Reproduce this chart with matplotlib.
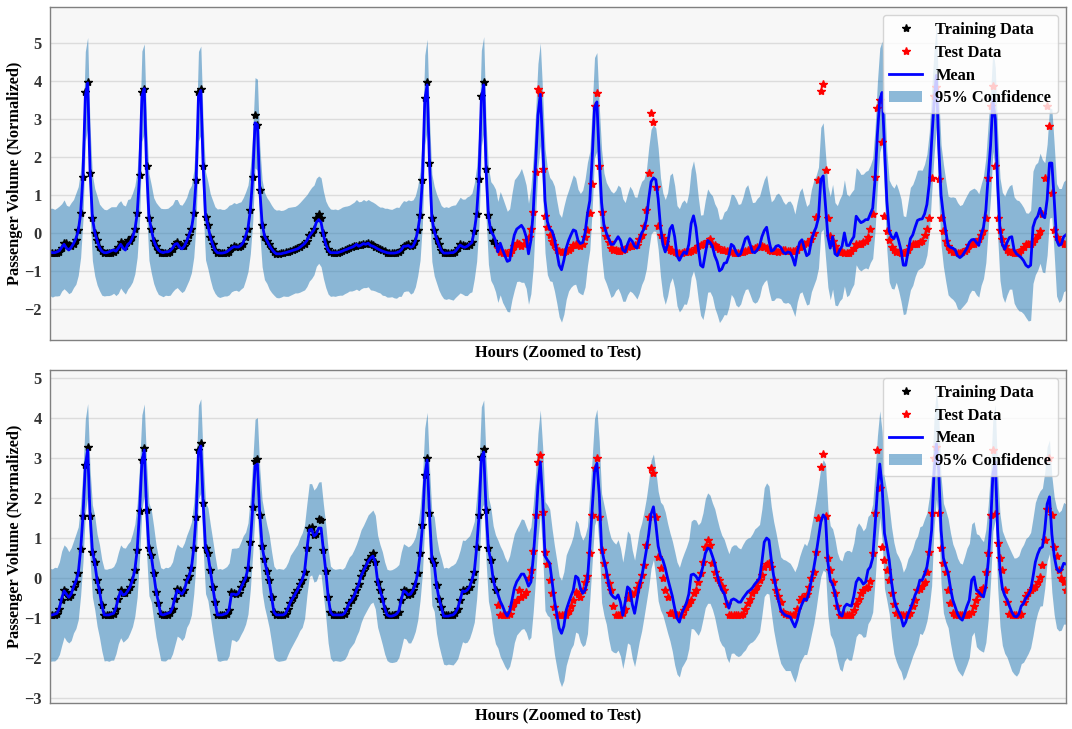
# plot.py
# GP forecast of hourly passenger volume, two stations, train/test split
import matplotlib
matplotlib.use("Agg")
import matplotlib.pyplot as plt
import numpy as np

# hour index where the test data starts (18 days x 24 h in total)
split_hour = 190

# top station: observed values, one row per day (24 hourly values)
obs_top = [
	[-0.52,-0.53,-0.53,-0.52,-0.5,-0.4,-0.27,-0.26,-0.33,-0.34,-0.3,-0.18,0.08,0.53,1.48,3.72,3.98,1.59,0.39,0.0,-0.18,-0.36,-0.48,-0.52],
	[-0.52,-0.53,-0.53,-0.5,-0.45,-0.38,-0.25,-0.3,-0.35,-0.18,-0.2,-0.1,0.1,0.53,1.53,3.72,3.8,1.75,0.4,0.1,-0.2,-0.35,-0.45,-0.52],
	[-0.52,-0.53,-0.52,-0.5,-0.42,-0.3,-0.25,-0.32,-0.35,-0.35,-0.2,-0.05,0.1,0.53,1.39,3.72,3.8,1.76,0.42,0.2,-0.1,-0.28,-0.45,-0.52],
	[-0.53,-0.53,-0.53,-0.52,-0.5,-0.4,-0.35,-0.38,-0.38,-0.35,-0.28,-0.1,0.1,0.6,1.48,3.1,2.84,1.13,0.2,-0.1,-0.2,-0.3,-0.42,-0.5],
	[-0.55,-0.55,-0.53,-0.52,-0.5,-0.5,-0.48,-0.45,-0.43,-0.4,-0.36,-0.33,-0.3,-0.2,-0.05,0.0,0.1,0.4,0.5,0.38,0.0,-0.25,-0.42,-0.5],
	[-0.52,-0.53,-0.53,-0.5,-0.48,-0.45,-0.42,-0.4,-0.38,-0.35,-0.35,-0.32,-0.33,-0.3,-0.28,-0.27,-0.3,-0.33,-0.38,-0.4,-0.42,-0.45,-0.48,-0.52],
	[-0.52,-0.53,-0.53,-0.52,-0.5,-0.45,-0.35,-0.32,-0.3,-0.35,-0.33,-0.2,0.08,0.47,1.39,3.55,3.98,1.84,0.39,0.07,-0.15,-0.3,-0.45,-0.52],
	[-0.53,-0.53,-0.53,-0.52,-0.5,-0.4,-0.3,-0.33,-0.35,-0.35,-0.33,-0.25,0.05,0.5,1.42,3.6,3.98,1.68,0.47,0.08,-0.2,-0.3,-0.4,-0.5],
	[-0.53,-0.53,-0.53,-0.52,-0.45,-0.35,-0.27,-0.3,-0.35,-0.3,-0.18,-0.1,0.1,0.55,1.61,3.78,3.69,1.68,0.45,0.15,-0.05,-0.2,-0.33,-0.45],
	[-0.48,-0.5,-0.5,-0.48,-0.45,-0.4,-0.33,-0.3,-0.32,-0.35,-0.3,-0.1,0.07,0.52,1.3,3.34,3.69,1.76,0.55,0.13,-0.07,-0.25,-0.4,-0.45],
	[-0.45,-0.47,-0.48,-0.45,-0.42,-0.38,-0.35,-0.35,-0.33,-0.32,-0.15,-0.05,0.18,0.6,1.58,3.17,2.91,1.2,0.17,-0.05,-0.13,-0.25,-0.36,-0.45],
	[-0.48,-0.5,-0.52,-0.53,-0.52,-0.5,-0.5,-0.5,-0.48,-0.45,-0.4,-0.35,-0.33,-0.3,-0.28,-0.2,-0.17,-0.28,-0.33,-0.38,-0.42,-0.45,-0.45,-0.47],
	[-0.48,-0.5,-0.52,-0.53,-0.52,-0.5,-0.5,-0.48,-0.45,-0.45,-0.42,-0.4,-0.38,-0.36,-0.35,-0.37,-0.4,-0.45,-0.47,-0.48,-0.48,-0.5,-0.48,-0.45],
	[-0.45,-0.47,-0.48,-0.48,-0.47,-0.45,-0.38,-0.35,-0.3,-0.27,-0.25,-0.15,0.0,0.42,1.4,3.74,3.92,1.66,0.39,-0.07,-0.2,-0.35,-0.45,-0.5],
	[-0.5,-0.52,-0.53,-0.52,-0.48,-0.4,-0.3,-0.3,-0.28,-0.25,-0.2,-0.1,0.1,0.5,1.48,3.3,3.5,2.4,0.45,0.05,-0.18,-0.36,-0.45,-0.5],
	[-0.5,-0.52,-0.52,-0.5,-0.45,-0.35,-0.3,-0.3,-0.28,-0.25,-0.2,-0.05,0.1,0.4,1.45,3.6,3.85,1.43,0.4,0.05,-0.2,-0.35,-0.45,-0.5],
	[-0.5,-0.52,-0.52,-0.5,-0.48,-0.42,-0.32,-0.3,-0.28,-0.25,-0.15,-0.05,0.05,0.4,1.45,3.34,3.86,1.75,0.4,0.08,-0.17,-0.35,-0.45,-0.5],
	[-0.5,-0.52,-0.52,-0.5,-0.45,-0.38,-0.3,-0.3,-0.28,-0.25,-0.15,-0.05,0.05,0.5,1.45,3.34,2.82,1.06,0.07,-0.1,-0.18,-0.25,-0.28,-0.3],
]

# top station: predictive mean
mean_top = [
	[-0.5,-0.52,-0.52,-0.5,-0.47,-0.38,-0.3,-0.4,-0.45,-0.38,-0.28,-0.15,0.05,0.5,1.5,3.6,3.95,1.65,0.4,0.02,-0.2,-0.38,-0.48,-0.52],
	[-0.52,-0.5,-0.47,-0.45,-0.48,-0.4,-0.3,-0.4,-0.45,-0.3,-0.25,-0.12,0.08,0.5,1.5,3.6,3.8,1.7,0.42,0.1,-0.2,-0.35,-0.45,-0.5],
	[-0.52,-0.5,-0.5,-0.47,-0.4,-0.3,-0.28,-0.38,-0.42,-0.35,-0.22,-0.05,0.1,0.5,1.4,3.6,3.75,1.75,0.45,0.2,-0.1,-0.3,-0.45,-0.52],
	[-0.53,-0.53,-0.52,-0.5,-0.45,-0.4,-0.36,-0.37,-0.37,-0.33,-0.25,-0.08,0.12,0.6,1.45,2.9,2.85,1.15,0.25,-0.08,-0.2,-0.32,-0.42,-0.5],
	[-0.55,-0.55,-0.55,-0.53,-0.52,-0.5,-0.48,-0.46,-0.44,-0.42,-0.38,-0.33,-0.28,-0.2,-0.08,0.0,0.08,0.28,0.35,0.28,-0.05,-0.3,-0.45,-0.52],
	[-0.52,-0.52,-0.52,-0.5,-0.48,-0.45,-0.43,-0.4,-0.38,-0.35,-0.3,-0.35,-0.32,-0.28,-0.3,-0.27,-0.33,-0.35,-0.38,-0.42,-0.45,-0.48,-0.5,-0.52],
	[-0.53,-0.53,-0.53,-0.52,-0.5,-0.45,-0.35,-0.35,-0.33,-0.38,-0.35,-0.22,0.05,0.45,1.4,3.5,3.9,1.85,0.4,0.05,-0.15,-0.32,-0.46,-0.53],
	[-0.53,-0.53,-0.52,-0.52,-0.48,-0.4,-0.32,-0.36,-0.38,-0.35,-0.3,-0.25,0.05,0.5,1.45,3.55,3.9,1.65,0.45,0.05,-0.05,-0.2,-0.5,-0.27],
	[-0.45,-0.6,-0.75,-0.72,-0.35,-0.05,0.1,0.15,0.2,0.1,-0.1,-0.55,-0.2,0.55,1.8,3.1,3.65,2.4,0.85,0.3,0.1,0.05,-0.15,-0.5],
	[-0.85,-0.97,-0.72,-0.4,-0.2,-0.05,0.08,0.05,-0.2,-0.28,-0.25,0.0,0.5,0.85,1.95,3.3,3.45,2.0,0.8,0.2,0.0,-0.15,-0.3,-0.3],
	[-0.2,-0.1,-0.2,-0.45,-0.5,-0.3,-0.15,-0.22,-0.35,-0.4,-0.2,0.0,0.1,0.35,0.9,1.35,1.45,1.4,0.9,0.15,-0.3,-0.5,-0.3,0.1],
	[0.2,-0.1,-0.6,-0.72,-0.6,-0.5,-0.55,-0.3,0.25,0.45,0.15,-0.4,-0.85,-0.9,-0.55,-0.2,-0.25,-0.35,-0.6,-0.75,-1.0,-0.95,-0.8,-0.78],
	[-0.6,-0.3,-0.35,-0.5,-0.6,-0.55,-0.35,-0.15,-0.1,-0.3,-0.5,-0.52,-0.45,-0.35,-0.1,0.06,0.15,-0.2,-0.48,-0.45,-0.35,-0.33,-0.38,-0.5],
	[-0.55,-0.5,-0.52,-0.65,-0.85,-0.5,-0.25,-0.18,-0.4,-0.6,-0.55,-0.2,0.0,0.15,0.4,1.4,1.5,0.7,-0.1,-0.4,-0.1,-0.55,-0.6,-0.45],
	[-0.35,0.0,-0.33,-0.33,-0.2,-0.1,0.44,0.35,0.27,0.3,0.35,0.35,0.5,0.65,1.4,2.6,3.5,3.7,2.3,0.85,0.05,-0.1,-0.15,0.0],
	[-0.2,-0.45,-0.85,-0.85,-0.5,-0.15,-0.05,0.15,0.33,0.36,0.37,0.5,0.75,1.3,2.4,3.4,4.15,2.3,1.0,0.46,0.05,-0.33,-0.38,-0.4],
	[-0.45,-0.6,-0.65,-0.6,-0.5,-0.4,-0.25,-0.18,-0.17,-0.25,-0.33,-0.05,0.15,0.6,1.5,2.3,3.5,3.0,1.3,0.1,-0.3,-0.43,-0.25,-0.12],
	[-0.1,-0.45,-0.55,-0.6,-0.65,-0.73,-0.85,-0.9,-0.85,0.15,0.35,0.44,0.65,0.45,0.4,0.88,1.84,1.84,0.88,-0.18,-0.33,-0.3,-0.1,-0.05],
]

# top station: half width of the 95% band
band_top = [
	[1.15,1.17,1.14,1.16,1.18,1.15,1.17,1.13,1.15,1.18,1.16,1.2,1.17,1.15,1.16,1.18,1.2,1.16,1.13,1.15,1.17,1.14,1.16,1.14],
	[1.13,1.15,1.16,1.14,1.17,1.19,1.15,1.14,1.16,1.18,1.15,1.17,1.16,1.14,1.17,1.19,1.18,1.15,1.14,1.16,1.13,1.15,1.17,1.15],
	[1.16,1.14,1.15,1.17,1.15,1.18,1.16,1.13,1.15,1.17,1.16,1.19,1.15,1.14,1.16,1.18,1.17,1.14,1.16,1.15,1.13,1.16,1.14,1.15],
	[1.17,1.15,1.14,1.16,1.18,1.15,1.16,1.14,1.17,1.15,1.18,1.16,1.14,1.15,1.17,1.19,1.2,1.16,1.14,1.15,1.13,1.16,1.15,1.14],
	[1.15,1.16,1.14,1.13,1.15,1.17,1.16,1.15,1.14,1.16,1.18,1.2,1.22,1.21,1.19,1.2,1.18,1.16,1.15,1.17,1.15,1.14,1.16,1.15],
	[1.14,1.15,1.13,1.14,1.16,1.15,1.14,1.13,1.15,1.16,1.18,1.17,1.15,1.16,1.14,1.15,1.17,1.16,1.15,1.14,1.13,1.16,1.15,1.17],
	[1.16,1.15,1.18,1.2,1.17,1.22,1.2,1.18,1.2,1.23,1.22,1.2,1.18,1.17,1.16,1.18,1.2,1.16,1.15,1.18,1.17,1.19,1.18,1.2],
	[1.22,1.2,1.23,1.25,1.22,1.24,1.26,1.25,1.27,1.3,1.28,1.3,1.26,1.25,1.24,1.26,1.27,1.25,1.28,1.3,1.32,1.35,1.33,1.36],
	[1.38,1.35,1.32,1.36,1.4,1.45,1.38,1.42,1.5,1.4,1.36,1.33,1.4,1.45,1.38,1.36,1.35,1.3,1.37,1.4,1.36,1.33,1.38,1.35],
	[1.36,1.38,1.42,1.35,1.33,1.38,1.45,1.4,1.35,1.32,1.38,1.42,1.36,1.3,1.34,1.32,1.3,1.35,1.4,1.38,1.33,1.36,1.4,1.35],
	[1.32,1.36,1.4,1.35,1.3,1.33,1.38,1.35,1.3,1.34,1.38,1.36,1.32,1.3,1.35,1.38,1.4,1.36,1.33,1.3,1.35,1.38,1.36,1.42],
	[1.38,1.35,1.32,1.36,1.4,1.37,1.33,1.36,1.42,1.45,1.4,1.35,1.32,1.38,1.42,1.36,1.3,1.33,1.37,1.4,1.36,1.32,1.35,1.38],
	[1.35,1.32,1.36,1.4,1.35,1.32,1.3,1.34,1.37,1.33,1.3,1.33,1.36,1.32,1.3,1.35,1.38,1.34,1.3,1.33,1.36,1.38,1.35,1.33],
	[1.3,1.33,1.36,1.38,1.35,1.32,1.34,1.37,1.33,1.3,1.32,1.35,1.38,1.36,1.33,1.38,1.4,1.36,1.33,1.36,1.38,1.35,1.32,1.34],
	[1.37,1.4,1.35,1.3,1.27,1.25,1.28,1.3,1.27,1.25,1.27,1.3,1.28,1.32,1.35,1.38,1.37,1.35,1.33,1.3,1.34,1.36,1.33,1.3],
	[1.32,1.35,1.3,1.28,1.32,1.35,1.33,1.3,1.32,1.3,1.28,1.31,1.33,1.35,1.37,1.38,1.36,1.34,1.32,1.35,1.33,1.3,1.32,1.35],
	[1.38,1.4,1.37,1.35,1.38,1.4,1.36,1.33,1.35,1.38,1.36,1.33,1.35,1.38,1.4,1.37,1.35,1.36,1.38,1.35,1.37,1.4,1.38,1.36],
	[1.38,1.4,1.42,1.45,1.42,1.4,1.38,1.42,1.45,1.48,1.45,1.42,1.45,1.48,1.45,1.46,1.45,1.43,1.45,1.48,1.5,1.47,1.45,1.46],
]

# bottom station: observed values
obs_bot = [
	[-0.93,-0.93,-0.92,-0.9,-0.78,-0.55,-0.3,-0.35,-0.47,-0.42,-0.22,-0.1,0.12,0.72,1.55,2.83,3.27,1.55,0.66,0.41,-0.05,-0.3,-0.68,-0.93],
	[-0.93,-0.93,-0.93,-0.9,-0.76,-0.51,-0.3,-0.38,-0.36,-0.3,-0.22,-0.05,0.2,0.7,1.68,2.95,3.24,1.7,0.74,0.58,0.12,-0.34,-0.63,-0.9],
	[-0.93,-0.93,-0.93,-0.88,-0.76,-0.51,-0.26,-0.3,-0.38,-0.3,-0.05,0.05,0.24,0.74,1.53,3.2,3.37,1.87,0.74,0.62,0.2,-0.22,-0.59,-0.93],
	[-0.93,-0.93,-0.93,-0.9,-0.8,-0.34,-0.38,-0.4,-0.38,-0.22,-0.1,0.0,0.24,0.9,1.78,2.92,2.97,1.58,0.8,0.47,0.18,-0.06,-0.47,-0.85],
	[-0.93,-0.93,-0.93,-0.93,-0.9,-0.76,-0.62,-0.5,-0.38,-0.3,-0.15,-0.05,0.16,0.74,1.24,1.28,1.08,1.1,1.47,1.45,0.7,0.18,-0.47,-0.85],
	[-0.93,-0.93,-0.93,-0.93,-0.93,-0.9,-0.78,-0.63,-0.55,-0.45,-0.3,-0.15,0.05,0.18,0.3,0.45,0.55,0.62,0.41,-0.09,-0.3,-0.51,-0.76,-0.93],
	[-0.93,-0.93,-0.93,-0.92,-0.85,-0.55,-0.3,-0.32,-0.42,-0.4,-0.3,-0.15,0.12,0.62,1.33,2.58,3.0,1.62,0.47,0.37,-0.18,-0.51,-0.72,-0.93],
	[-0.93,-0.93,-0.93,-0.93,-0.88,-0.76,-0.55,-0.3,-0.32,-0.3,-0.22,-0.05,0.16,0.78,1.58,3.03,3.22,1.7,0.74,0.45,-0.03,-0.3,-0.68,-0.93],
	[-0.93,-0.93,-0.93,-0.9,-0.72,-0.62,-0.55,-0.3,-0.47,-0.42,-0.35,0.0,0.2,0.68,1.58,2.9,3.08,1.65,0.64,0.35,-0.05,-0.37,-0.72,-0.93],
	[-0.93,-0.93,-0.93,-0.93,-0.82,-0.7,-0.55,-0.35,-0.4,-0.47,-0.3,-0.1,0.05,0.62,1.58,2.74,3.0,1.53,0.7,0.37,0.08,-0.13,-0.3,-0.7],
	[-0.93,-0.93,-0.93,-0.88,-0.76,-0.5,-0.38,-0.4,-0.38,-0.25,-0.13,0.08,0.32,0.83,1.53,2.74,2.62,1.53,0.53,0.25,0.0,-0.3,-0.47,-0.88],
	[-0.88,-0.93,-0.93,-0.93,-0.93,-0.8,-0.72,-0.63,-0.55,-0.38,-0.3,-0.1,0.12,0.4,0.78,0.95,0.83,0.37,0.16,0.0,-0.05,-0.2,-0.3,-0.65],
	[-0.93,-0.93,-0.93,-0.93,-0.93,-0.93,-0.9,-0.76,-0.63,-0.51,-0.38,-0.3,-0.2,-0.05,0.08,0.28,0.35,0.38,0.28,-0.05,-0.3,-0.45,-0.6,-0.85],
	[-0.9,-0.93,-0.93,-0.93,-0.9,-0.76,-0.55,-0.47,-0.5,-0.4,-0.22,0.0,0.16,0.66,1.5,2.78,3.09,1.55,0.49,0.2,-0.1,-0.38,-0.7,-0.93],
	[-0.93,-0.93,-0.93,-0.93,-0.93,-0.8,-0.65,-0.51,-0.38,-0.3,-0.25,-0.22,-0.07,0.63,1.62,3.2,2.24,0.78,0.45,0.2,-0.05,-0.38,-0.65,-0.88],
	[-0.93,-0.93,-0.93,-0.93,-0.93,-0.88,-0.7,-0.55,-0.3,-0.26,-0.2,-0.1,0.16,0.66,1.62,3.0,3.28,1.62,0.74,0.37,0.16,-0.3,-0.63,-0.88],
	[-0.93,-0.93,-0.93,-0.93,-0.93,-0.93,-0.9,-0.85,-0.7,-0.55,-0.4,-0.3,-0.25,0.16,0.62,1.58,3.2,1.6,0.87,0.5,0.2,-0.3,-0.6,-0.9],
	[-0.93,-0.93,-0.93,-0.93,-0.9,-0.6,-0.45,-0.38,-0.3,-0.25,-0.22,-0.1,0.03,0.32,0.95,1.73,3.0,1.58,0.78,0.55,0.2,0.0,-0.1,-0.3],
]

# bottom station: predictive mean
mean_bot = [
	[-0.92,-0.92,-0.9,-0.88,-0.75,-0.5,-0.32,-0.4,-0.48,-0.4,-0.22,-0.08,0.12,0.7,1.55,2.8,3.2,1.6,0.68,0.38,-0.05,-0.32,-0.68,-0.92],
	[-0.92,-0.92,-0.9,-0.88,-0.74,-0.5,-0.33,-0.42,-0.4,-0.32,-0.22,-0.05,0.2,0.7,1.65,2.9,3.2,1.72,0.72,0.55,0.12,-0.32,-0.62,-0.9],
	[-0.92,-0.9,-0.88,-0.86,-0.74,-0.5,-0.3,-0.35,-0.4,-0.3,-0.08,0.05,0.24,0.75,1.55,3.15,3.3,1.85,0.75,0.6,0.2,-0.2,-0.58,-0.92],
	[-0.92,-0.92,-0.9,-0.88,-0.78,-0.4,-0.4,-0.42,-0.38,-0.25,-0.12,0.0,0.24,0.88,1.75,2.8,2.85,1.6,0.8,0.45,0.18,-0.08,-0.47,-0.85],
	[-0.92,-0.92,-0.92,-0.92,-0.88,-0.75,-0.6,-0.5,-0.4,-0.3,-0.15,-0.05,0.16,0.72,1.2,1.22,1.05,1.1,1.25,1.25,0.7,0.18,-0.45,-0.85],
	[-0.92,-0.92,-0.92,-0.92,-0.92,-0.88,-0.76,-0.62,-0.55,-0.45,-0.3,-0.15,0.05,0.18,0.3,0.42,0.5,0.55,0.4,-0.08,-0.3,-0.5,-0.75,-0.92],
	[-0.95,-0.95,-0.93,-0.9,-0.82,-0.55,-0.32,-0.35,-0.42,-0.4,-0.3,-0.15,0.12,0.6,1.3,2.55,2.95,1.6,0.48,0.35,-0.18,-0.5,-0.72,-0.95],
	[-0.95,-0.95,-0.93,-0.92,-0.86,-0.75,-0.55,-0.32,-0.34,-0.3,-0.22,-0.05,0.16,0.76,1.55,3.0,3.15,1.7,0.72,0.45,-0.03,-0.28,-0.4,-0.58],
	[-0.7,-0.85,-0.95,-0.82,-0.55,-0.25,-0.09,0.0,0.1,0.1,-0.03,-0.2,-0.1,0.5,1.3,2.3,2.9,1.95,0.55,0.45,0.37,-0.1,-0.55,-0.9],
	[-1.25,-1.38,-1.2,-0.8,-0.62,-0.45,-0.3,0.05,0.0,-0.25,-0.38,-0.3,-0.05,0.78,1.7,2.65,2.87,2.1,0.75,0.45,0.2,-0.15,-0.4,-0.47],
	[-0.51,-0.42,-0.6,-0.93,-0.6,-0.22,-0.28,-0.65,-0.88,-0.55,-0.2,0.03,0.35,0.7,1.1,1.6,1.78,1.35,0.8,0.55,0.45,0.25,0.0,-0.22],
	[-0.45,-0.75,-1.0,-1.1,-0.88,-0.75,-0.62,-0.4,0.08,0.1,0.05,-0.05,0.05,0.3,0.62,0.75,0.72,0.55,0.37,0.1,-0.15,-0.3,-0.38,-0.6],
	[-0.75,-0.55,-0.52,-0.55,-0.6,-0.6,-0.5,-0.42,-0.34,-0.3,-0.24,-0.15,-0.08,0.0,0.4,0.9,1.0,0.95,0.45,0.05,-0.25,-0.55,-0.8,-0.88],
	[-0.93,-0.95,-0.97,-1.1,-1.22,-1.05,-0.8,-0.65,-0.52,-0.55,-0.35,-0.05,0.25,0.6,1.0,1.4,1.58,1.5,0.4,-0.05,-0.15,-0.38,-0.7,-0.9],
	[-0.95,-0.72,-0.65,-0.68,-0.7,-0.45,-0.1,0.0,-0.05,-0.15,-0.1,0.2,0.28,0.5,1.3,2.2,2.85,2.3,1.12,0.8,0.45,-0.1,-0.5,-0.72],
	[-0.85,-0.97,-1.2,-1.1,-0.9,-0.76,-0.6,-0.42,-0.3,-0.05,-0.05,0.1,0.28,0.65,1.2,2.6,3.35,2.7,1.2,0.5,0.3,0.12,-0.25,-0.55],
	[-0.72,-0.9,-1.0,-1.05,-0.88,-0.7,-0.55,-0.05,0.03,-0.3,-0.35,-0.42,-0.47,-0.2,0.4,1.3,2.6,2.9,1.2,0.2,-0.25,-0.43,-0.55,-0.7],
	[-0.85,-0.95,-0.97,-0.9,-0.7,-0.63,-0.5,-0.42,-0.3,0.03,0.4,0.6,0.74,0.78,1.2,1.85,2.03,1.1,0.55,0.25,0.16,0.2,0.37,0.35],
]

# bottom station: half width of the 95% band
band_bot = [
	[1.16,1.15,1.17,1.14,1.16,1.18,1.15,1.17,1.14,1.16,1.15,1.18,1.16,1.14,1.15,1.17,1.16,1.14,1.15,1.17,1.15,1.16,1.14,1.15],
	[1.14,1.16,1.15,1.17,1.15,1.14,1.16,1.18,1.15,1.17,1.14,1.16,1.15,1.17,1.16,1.18,1.15,1.14,1.16,1.15,1.17,1.15,1.14,1.16],
	[1.15,1.17,1.14,1.16,1.15,1.17,1.15,1.14,1.16,1.18,1.15,1.17,1.16,1.14,1.15,1.17,1.18,1.15,1.14,1.16,1.15,1.17,1.15,1.14],
	[1.16,1.14,1.15,1.17,1.16,1.14,1.15,1.17,1.15,1.16,1.18,1.15,1.14,1.16,1.15,1.17,1.16,1.14,1.15,1.17,1.15,1.16,1.14,1.15],
	[1.14,1.16,1.15,1.14,1.16,1.15,1.17,1.16,1.15,1.14,1.16,1.18,1.17,1.15,1.16,1.14,1.15,1.17,1.15,1.16,1.14,1.15,1.17,1.15],
	[1.16,1.14,1.15,1.16,1.14,1.15,1.17,1.15,1.14,1.16,1.15,1.17,1.16,1.14,1.15,1.16,1.14,1.15,1.17,1.15,1.14,1.16,1.15,1.14],
	[1.15,1.16,1.17,1.18,1.16,1.2,1.18,1.17,1.2,1.22,1.2,1.18,1.17,1.16,1.18,1.2,1.19,1.17,1.16,1.18,1.2,1.19,1.21,1.2],
	[1.22,1.2,1.23,1.25,1.24,1.26,1.25,1.27,1.28,1.3,1.28,1.27,1.26,1.28,1.27,1.28,1.3,1.28,1.3,1.32,1.34,1.36,1.35,1.38],
	[1.38,1.36,1.35,1.38,1.4,1.36,1.33,1.35,1.38,1.36,1.33,1.35,1.38,1.34,1.3,1.32,1.3,1.33,1.36,1.38,1.35,1.33,1.36,1.34],
	[1.3,1.33,1.36,1.38,1.35,1.32,1.36,1.4,1.38,1.35,1.33,1.36,1.34,1.32,1.3,1.33,1.35,1.32,1.36,1.38,1.35,1.37,1.4,1.38],
	[1.36,1.38,1.35,1.33,1.36,1.4,1.38,1.35,1.33,1.36,1.38,1.35,1.32,1.3,1.33,1.35,1.32,1.34,1.37,1.35,1.38,1.4,1.37,1.35],
	[1.38,1.42,1.4,1.37,1.35,1.38,1.4,1.36,1.34,1.37,1.4,1.38,1.35,1.33,1.36,1.38,1.35,1.33,1.36,1.38,1.4,1.37,1.35,1.38],
	[1.36,1.33,1.35,1.38,1.36,1.33,1.35,1.37,1.34,1.32,1.35,1.38,1.36,1.34,1.33,1.36,1.38,1.35,1.33,1.36,1.38,1.36,1.33,1.35],
	[1.38,1.36,1.34,1.37,1.38,1.36,1.34,1.37,1.39,1.36,1.33,1.35,1.38,1.36,1.34,1.36,1.38,1.35,1.33,1.36,1.38,1.36,1.34,1.37],
	[1.38,1.36,1.34,1.37,1.35,1.33,1.36,1.38,1.35,1.33,1.36,1.34,1.32,1.35,1.37,1.35,1.33,1.36,1.38,1.36,1.34,1.37,1.39,1.36],
	[1.38,1.36,1.35,1.37,1.39,1.36,1.34,1.37,1.35,1.33,1.36,1.38,1.35,1.37,1.39,1.36,1.38,1.36,1.34,1.37,1.39,1.36,1.38,1.4],
	[1.42,1.4,1.38,1.4,1.42,1.45,1.42,1.4,1.38,1.41,1.43,1.4,1.38,1.41,1.43,1.4,1.42,1.44,1.42,1.4,1.43,1.45,1.43,1.45],
	[1.47,1.45,1.48,1.46,1.44,1.47,1.49,1.46,1.44,1.47,1.49,1.46,1.44,1.47,1.45,1.43,1.42,1.45,1.47,1.5,1.48,1.5,1.52,1.5],
]

# y ticks and limits of the two panels
yticks_top = [-2, -1, 0, 1, 2, 3, 4, 5]
yticks_bot = [-3, -2, -1, 0, 1, 2, 3, 4, 5]
ylim_top = (-2.82, 5.95)
ylim_bot = (-3.12, 5.2)


def flatten(days, name):
	# every day must hold 24 hourly values
	for i, d in enumerate(days):
		if len(d) != 24:
			raise ValueError("{} day {} has {} values".format(name, i, len(d)))
	return np.array([v for d in days for v in d])


def draw_panel(ax, obs, mean, band, yticks, ylim):
	hours = np.arange(len(obs))

	# observations, mean and confidence band
	ax.plot(hours[:split_hour], obs[:split_hour], "k*", markersize=6,
		label="Training Data")
	ax.plot(hours[split_hour:], obs[split_hour:], "r*", markersize=6,
		label="Test Data")
	ax.plot(hours, mean, color="b", linewidth=2, label="Mean")
	ax.fill_between(hours, mean - band, mean + band, color="#1f77b4",
		alpha=0.5, linewidth=0, label="95% Confidence")

	# axes look
	ax.set_facecolor("#f7f7f7")
	ax.set_xlim(0, len(obs) - 1)
	ax.set_ylim(*ylim)
	ax.set_xticks([])
	ax.set_yticks(yticks)
	ax.set_yticklabels(["\u2212{}".format(-t) if t < 0 else str(t) for t in yticks])
	ax.tick_params(axis="y", length=0, pad=6, labelsize=11.8, labelcolor="#333333")
	ax.yaxis.grid(True, color="#dcdcdc", linewidth=1)
	ax.set_axisbelow(True)
	for s in ax.spines.values():
		s.set_color("#808080")
		s.set_linewidth(1)

	ax.set_xlabel("Hours (Zoomed to Test)", fontsize=11.8, fontweight="bold",
		labelpad=3)
	ax.set_ylabel("Passenger Volume (Normalized)", fontsize=11.8,
		fontweight="bold", labelpad=1)
	ax.legend(loc="upper right", fontsize=11.8, framealpha=0.8,
		edgecolor="#cccccc", numpoints=1, borderaxespad=0.5,
		labelspacing=0.42)


plt.rcParams["font.family"] = ["Liberation Serif", "DejaVu Serif"]
plt.rcParams["font.weight"] = "bold"

fig = plt.figure(figsize=(10.72, 7.29), dpi=100)
ax1 = fig.add_axes([0.0466, 0.5336, 0.9478, 0.4568])
ax2 = fig.add_axes([0.0466, 0.0357, 0.9478, 0.4568])

draw_panel(ax1, flatten(obs_top, "obs_top"), flatten(mean_top, "mean_top"),
	flatten(band_top, "band_top"), yticks_top, ylim_top)
draw_panel(ax2, flatten(obs_bot, "obs_bot"), flatten(mean_bot, "mean_bot"),
	flatten(band_bot, "band_bot"), yticks_bot, ylim_bot)

fig.savefig("out.png", dpi=100)
